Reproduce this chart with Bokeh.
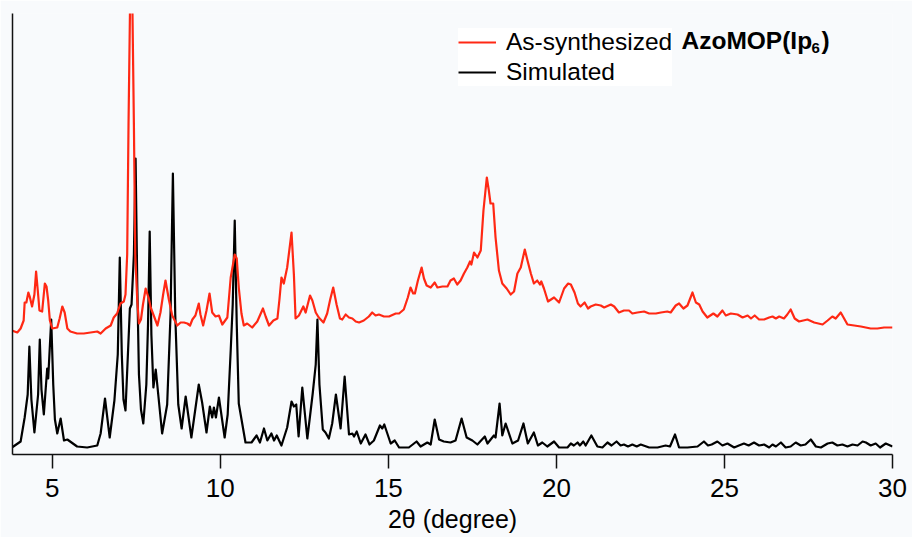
from bokeh.plotting import figure
from bokeh.models import FixedTicker, Legend, LegendItem, Label
from bokeh.embed import file_html
from bokeh.resources import INLINE

# Simulated pattern: 2-theta (degree) and intensity (a.u.)
two_theta_sim = [
    3.80, 4.06, 4.18, 4.27, 4.32, 4.38, 4.47, 4.58, 4.63, 4.68,
    4.75, 4.85, 4.88, 4.97, 5.03, 5.08, 5.15, 5.25, 5.35, 5.45,
    5.74, 6.04, 6.34, 6.44, 6.57, 6.71, 6.85, 6.95, 7.01, 7.07,
    7.12, 7.18, 7.31, 7.36, 7.43, 7.48, 7.53, 7.58, 7.64, 7.71,
    7.80, 7.85, 7.90, 7.95, 8.01, 8.08, 8.27, 8.42, 8.52, 8.59,
    8.66, 8.75, 8.85, 8.97, 9.14, 9.36, 9.46, 9.59, 9.69, 9.76,
    9.81, 9.87, 9.96, 10.13, 10.22, 10.31, 10.37, 10.43, 10.49, 10.55,
    10.75, 10.93, 11.08, 11.18, 11.30, 11.40, 11.52, 11.60, 11.68, 11.82,
    11.99, 12.12, 12.19, 12.26, 12.33, 12.44, 12.59, 12.75, 12.84, 12.89,
    12.95, 13.05, 13.13, 13.23, 13.33, 13.44, 13.58, 13.70, 13.83, 13.93,
    13.98, 14.06, 14.18, 14.32, 14.44, 14.57, 14.75, 14.82, 14.88, 15.07,
    15.19, 15.32, 15.61, 15.84, 15.96, 16.16, 16.26, 16.38, 16.51, 16.65,
    16.85, 17.00, 17.18, 17.33, 17.50, 17.65, 17.87, 17.95, 18.14, 18.19,
    18.31, 18.39, 18.49, 18.69, 18.86, 19.02, 19.15, 19.33, 19.45, 19.58,
    19.73, 19.93, 20.08, 20.33, 20.43, 20.52, 20.63, 20.70, 20.80, 20.87,
    21.04, 21.22, 21.37, 21.52, 21.64, 21.79, 21.91, 22.01, 22.13, 22.26,
    22.39, 22.51, 22.76, 23.01, 23.25, 23.38, 23.53, 23.65, 23.90, 24.20,
    24.39, 24.51, 24.62, 24.79, 24.94, 25.09, 25.29, 25.43, 25.58, 25.72,
    25.88, 26.03, 26.18, 26.33, 26.43, 26.53, 26.68, 26.82, 26.97, 27.12,
    27.27, 27.41, 27.57, 27.72, 27.87, 28.07, 28.21, 28.36, 28.51, 28.66,
    28.81, 28.96, 29.11, 29.21, 29.35, 29.50, 29.63, 29.80, 30.00,
]
intensity_sim = [
    7, 13, 37, 60, 108, 55, 22, 60, 115, 65,
    40, 86, 76, 135, 70, 35, 21, 36, 14, 15,
    8, 7, 9, 21, 56, 17, 54, 100, 197, 100,
    55, 44, 146, 150, 200, 296, 170, 80, 45, 31,
    70, 130, 223, 120, 67, 85, 21, 50, 140, 281,
    140, 50, 26, 58, 17, 70, 52, 22, 48, 37,
    47, 37, 57, 17, 40, 104, 150, 234, 130, 51,
    12, 12, 19, 12, 26, 14, 21, 14, 19, 9,
    27, 53, 48, 50, 18, 67, 16, 61, 90, 135,
    70, 25, 22, 16, 31, 60, 26, 78, 20, 21,
    18, 23, 11, 20, 10, 14, 29, 26, 30, 11,
    14, 7, 7, 13, 8, 12, 10, 35, 15, 13,
    12, 14, 36, 17, 14, 10, 18, 11, 19, 17,
    51, 19, 31, 11, 14, 31, 11, 22, 9, 12,
    8, 13, 7, 7, 11, 9, 12, 9, 13, 9,
    19, 8, 7, 12, 9, 13, 9, 10, 8, 10,
    8, 10, 7, 7, 9, 8, 20, 7, 7, 8,
    13, 9, 10, 13, 9, 11, 7, 9, 11, 9,
    12, 9, 10, 7, 10, 8, 12, 7, 8, 12,
    9, 10, 15, 8, 7, 11, 12, 9, 10, 8,
    10, 9, 13, 12, 9, 11, 7, 11, 8,
]

# As-synthesized pattern (stacked above the simulated one)
two_theta_exp = [
    3.80, 3.96, 4.06, 4.15, 4.18, 4.23, 4.29, 4.33, 4.40, 4.47,
    4.52, 4.57, 4.62, 4.70, 4.78, 4.83, 4.88, 4.93, 5.00, 5.15,
    5.22, 5.30, 5.37, 5.45, 5.54, 5.74, 5.94, 6.14, 6.34, 6.44,
    6.59, 6.74, 6.83, 6.93, 7.03, 7.13, 7.18, 7.23, 7.27, 7.35,
    7.43, 7.47, 7.53, 7.58, 7.64, 7.70, 7.78, 7.88, 7.93, 8.02,
    8.13, 8.22, 8.30, 8.37, 8.47, 8.57, 8.72, 8.82, 8.92, 9.02,
    9.10, 9.17, 9.26, 9.36, 9.41, 9.49, 9.59, 9.68, 9.76, 9.86,
    9.96, 10.06, 10.21, 10.31, 10.43, 10.49, 10.55, 10.63, 10.70, 10.80,
    10.95, 11.10, 11.27, 11.35, 11.45, 11.58, 11.70, 11.76, 11.82, 11.89,
    11.99, 12.12, 12.19, 12.24, 12.34, 12.47, 12.54, 12.67, 12.74, 12.84,
    12.93, 13.07, 13.18, 13.27, 13.36, 13.46, 13.56, 13.63, 13.73, 13.83,
    13.93, 14.03, 14.13, 14.27, 14.42, 14.52, 14.62, 14.72, 14.87, 15.02,
    15.22, 15.32, 15.46, 15.58, 15.66, 15.74, 15.79, 15.88, 15.99, 16.06,
    16.14, 16.26, 16.38, 16.46, 16.61, 16.76, 16.85, 16.95, 17.05, 17.15,
    17.25, 17.35, 17.43, 17.47, 17.55, 17.65, 17.75, 17.83, 17.93, 17.99,
    18.04, 18.12, 18.19, 18.29, 18.39, 18.52, 18.64, 18.74, 18.84, 18.94,
    19.06, 19.14, 19.24, 19.33, 19.43, 19.51, 19.55, 19.63, 19.75, 19.93,
    20.08, 20.23, 20.35, 20.43, 20.54, 20.64, 20.72, 20.84, 20.94, 21.02,
    21.17, 21.32, 21.42, 21.62, 21.72, 21.86, 22.01, 22.16, 22.26, 22.41,
    22.61, 22.76, 22.96, 23.11, 23.30, 23.40, 23.55, 23.65, 23.78, 23.90,
    24.05, 24.15, 24.25, 24.35, 24.49, 24.67, 24.79, 24.94, 25.04, 25.19,
    25.39, 25.54, 25.69, 25.79, 25.90, 26.03, 26.18, 26.33, 26.43, 26.53,
    26.63, 26.77, 26.87, 26.97, 27.09, 27.22, 27.47, 27.67, 27.92, 28.07,
    28.21, 28.31, 28.46, 28.56, 28.66, 28.86, 29.06, 29.35, 29.55, 29.75,
    30.00,
]
intensity_exp = [
    124, 122, 126, 134, 152, 152, 162, 158, 148, 160,
    183, 164, 144, 143, 171, 168, 154, 134, 126, 127,
    136, 148, 142, 126, 123, 121, 121, 122, 123, 121,
    126, 129, 137, 141, 151, 153, 160, 200, 330, 540,
    330, 200, 154, 131, 135, 150, 166, 155, 147, 139,
    129, 142, 160, 174, 155, 139, 129, 132, 132, 131,
    129, 135, 139, 151, 140, 129, 144, 161, 142, 138,
    139, 130, 137, 177, 200, 196, 167, 141, 129, 131,
    127, 133, 146, 138, 129, 134, 136, 155, 177, 171,
    187, 222, 180, 136, 139, 148, 142, 159, 154, 142,
    137, 132, 141, 155, 167, 150, 136, 135, 140, 137,
    136, 133, 132, 134, 138, 142, 139, 140, 138, 138,
    141, 141, 145, 157, 167, 161, 161, 174, 187, 176,
    169, 167, 172, 167, 168, 168, 174, 176, 170, 174,
    181, 187, 193, 190, 202, 197, 204, 244, 277, 264,
    251, 251, 217, 184, 171, 166, 160, 163, 181, 187,
    205, 194, 181, 171, 174, 170, 173, 166, 153, 157,
    152, 166, 171, 170, 162, 151, 148, 152, 146, 148,
    150, 149, 147, 150, 148, 142, 144, 144, 141, 142,
    143, 141, 141, 142, 143, 142, 149, 151, 146, 149,
    162, 152, 150, 143, 137, 141, 138, 144, 139, 141,
    140, 137, 139, 136, 139, 135, 135, 137, 138, 136,
    138, 136, 140, 145, 136, 133, 135, 132, 130, 134,
    138, 136, 142, 136, 130, 129, 128, 126, 126, 127,
    127,
]

x_ticks = [5, 10, 15, 20, 25, 30]
x_title = "2θ (degree)"

BG = "#f8fafc"
RED = "#ff2814"
FONT = "Liberation Sans"

p = figure(
    width=912, height=537,
    x_range=(3.818, 30.0), y_range=(0, 441),
    output_backend="svg", toolbar_location=None,
    min_border_left=12, min_border_right=20,
    min_border_top=13, min_border_bottom=83,
)
p.background_fill_color = BG
p.border_fill_color = BG
p.outline_line_color = None
p.grid.visible = False

r_sim = p.line(two_theta_sim, intensity_sim, line_color="black", line_width=2.2,
               line_join="round")
r_exp = p.line(two_theta_exp, intensity_exp, line_color=RED, line_width=2.2,
               line_join="round")

# bottom axis: 2-theta
xa = p.xaxis[0]
xa.ticker = FixedTicker(ticks=x_ticks)
xa.minor_tick_line_color = None
xa.major_tick_in = 0
xa.major_tick_out = 14
xa.major_tick_line_width = 1.5
xa.axis_line_width = 1.5
xa.axis_line_color = "#111111"
xa.major_tick_line_color = "#111111"
xa.major_label_text_font = FONT
xa.major_label_text_font_size = "26px"
xa.major_label_text_color = "black"
xa.major_label_standoff = 10
xa.axis_label = x_title
xa.axis_label_text_font = FONT
xa.axis_label_text_font_size = "25px"
xa.axis_label_text_font_style = "normal"
xa.axis_label_text_color = "black"
xa.axis_label_standoff = 5

# left axis: plain line, no ticks
ya = p.yaxis[0]
ya.ticker = FixedTicker(ticks=[])
ya.minor_tick_line_color = None
ya.major_tick_line_color = None
ya.major_label_text_font_size = "0px"
ya.axis_line_width = 1.5
ya.axis_line_color = "#111111"

legend = Legend(
    items=[
        LegendItem(label="As-synthesized", renderers=[r_exp]),
        LegendItem(label="Simulated", renderers=[r_sim]),
    ],
    location=(446, 368),
    glyph_width=38, glyph_height=24, label_height=24,
    label_standoff=10, spacing=2, padding=8, margin=0,
    label_text_font=FONT, label_text_font_size="24.5px",
    label_text_color="black",
    background_fill_color="white", background_fill_alpha=1.0,
    border_line_color=None,
)
p.add_layout(legend)

# bold compound name with subscript next to the first legend entry
name_style = dict(x_units="screen", y_units="screen", text_font=FONT,
                  text_font_style="bold", text_baseline="middle",
                  text_color="black")
p.add_layout(Label(x=669, y=414, text="AzoMOP(Ip", text_font_size="24.5px", **name_style))
p.add_layout(Label(x=799, y=407, text="6", text_font_size="15px", **name_style))
p.add_layout(Label(x=809, y=414, text=")", text_font_size="24.5px", **name_style))

open("out.html", "w").write(file_html(p, INLINE))
